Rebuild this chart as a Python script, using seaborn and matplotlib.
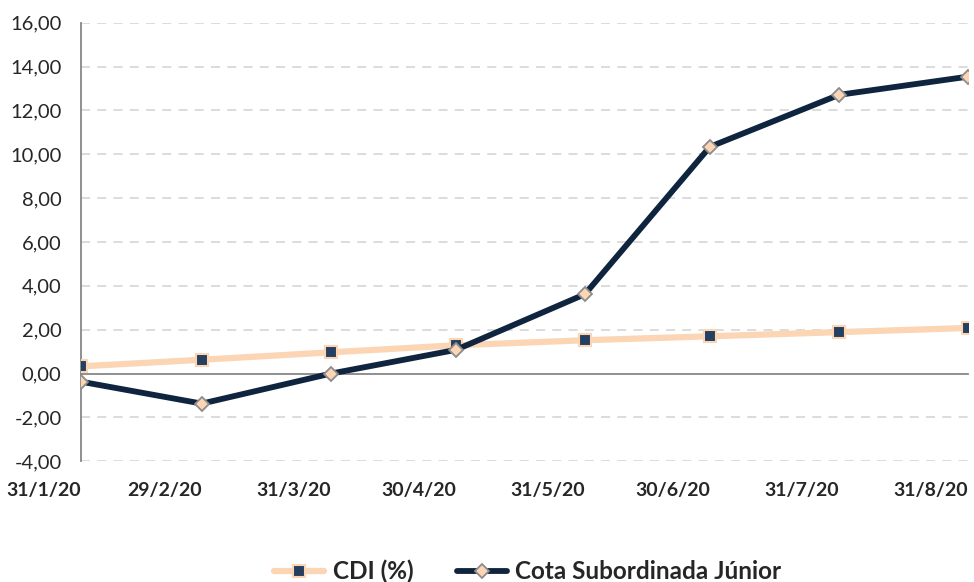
import numpy as np
import pandas as pd
import matplotlib.pyplot as plt
from matplotlib.ticker import FuncFormatter
from matplotlib.lines import Line2D
import seaborn as sns

# ── Data ─────────────────────────────────────────────────────────────────────
dates = ["2020-01-31", "2020-02-29", "2020-03-31", "2020-04-30",
         "2020-05-31", "2020-06-30", "2020-07-31", "2020-08-31"]
date_labels = ["31/1/20", "29/2/20", "31/3/20", "30/4/20",
               "31/5/20", "30/6/20", "31/7/20", "31/8/20"]
cdi = [0.33, 0.63, 0.97, 1.29, 1.52, 1.70, 1.89, 2.08]
cota = [-0.37, -1.37, 0.0, 1.08, 3.62, 10.34, 12.71, 13.54]
y_ticks = [-4, -2, 0, 2, 4, 6, 8, 10, 12, 14, 16]

df = pd.DataFrame({"date": pd.to_datetime(dates), "cdi": cdi, "cota": cota})

# ── Style ────────────────────────────────────────────────────────────────────
sns.set_style("white")
plt.rcParams["font.family"] = ["Lato", "DejaVu Sans"]

PEACH = "#FCD5B4"
NAVY = "#0F243E"
SQUARE = "#243F60"
GREY = "#878787"

fig = plt.figure(figsize=(9.74, 5.82), dpi=100)
ax = fig.add_axes([0.0832, 0.2074, 0.9107, 0.7536])

sns.lineplot(data=df, x="date", y="cdi", ax=ax, color=PEACH, linewidth=4.5,
             marker="s", markersize=8, markerfacecolor=SQUARE,
             markeredgecolor=PEACH, markeredgewidth=1.5, zorder=3)
sns.lineplot(data=df, x="date", y="cota", ax=ax, color=NAVY, linewidth=4.2,
             marker="D", markersize=7, markerfacecolor=PEACH,
             markeredgecolor="#8C8C8C", markeredgewidth=1.3, zorder=4)

ax.set_xlim(df["date"].iloc[0], df["date"].iloc[-1])
ax.set_ylim(-4, 16)
ax.set_yticks(y_ticks)
ax.yaxis.set_major_formatter(FuncFormatter(lambda v, p: f"{v:.2f}".replace(".", ",")))
for v in y_ticks:
    if v != 0:
        ax.axhline(v, color="#D9D9D9", lw=1.3, ls=(0, (5, 4)), zorder=1)

for s in ["top", "right"]:
    ax.spines[s].set_visible(False)
ax.spines["left"].set_color(GREY)
ax.spines["left"].set_linewidth(1.3)
ax.spines["bottom"].set_position(("data", 0))
ax.spines["bottom"].set_color(GREY)
ax.spines["bottom"].set_linewidth(1.3)
ax.tick_params(axis="x", direction="out", length=5, width=1.3, color=GREY,
               pad=73, labelsize=14)
ax.tick_params(axis="y", direction="out", length=5, width=1.3, color=GREY,
               labelsize=14.5, pad=9)

ax.set_xticks(df["date"])
ax.set_xticklabels(date_labels)
for lab in ax.get_xticklabels():
    lab.set_fontweight("bold")
    lab.set_horizontalalignment("right")
ax.set_xlabel("")
ax.set_ylabel("")

handles = [
    Line2D([], [], color=PEACH, lw=4.5, marker="s", markersize=8,
           markerfacecolor=SQUARE, markeredgecolor=PEACH, markeredgewidth=1.5),
    Line2D([], [], color=NAVY, lw=4.2, marker="D", markersize=7,
           markerfacecolor=PEACH, markeredgecolor="#8C8C8C", markeredgewidth=1.3),
]
fig.legend(handles, ["CDI (%)", "Cota Subordinada Júnior"], loc="lower center",
           bbox_to_anchor=(0.542, -0.04), ncol=2, frameon=False,
           prop={"weight": "bold", "size": 17.5}, handlelength=2.05,
           handletextpad=0.35, columnspacing=1.8)

fig.savefig("out.png", dpi=100)
